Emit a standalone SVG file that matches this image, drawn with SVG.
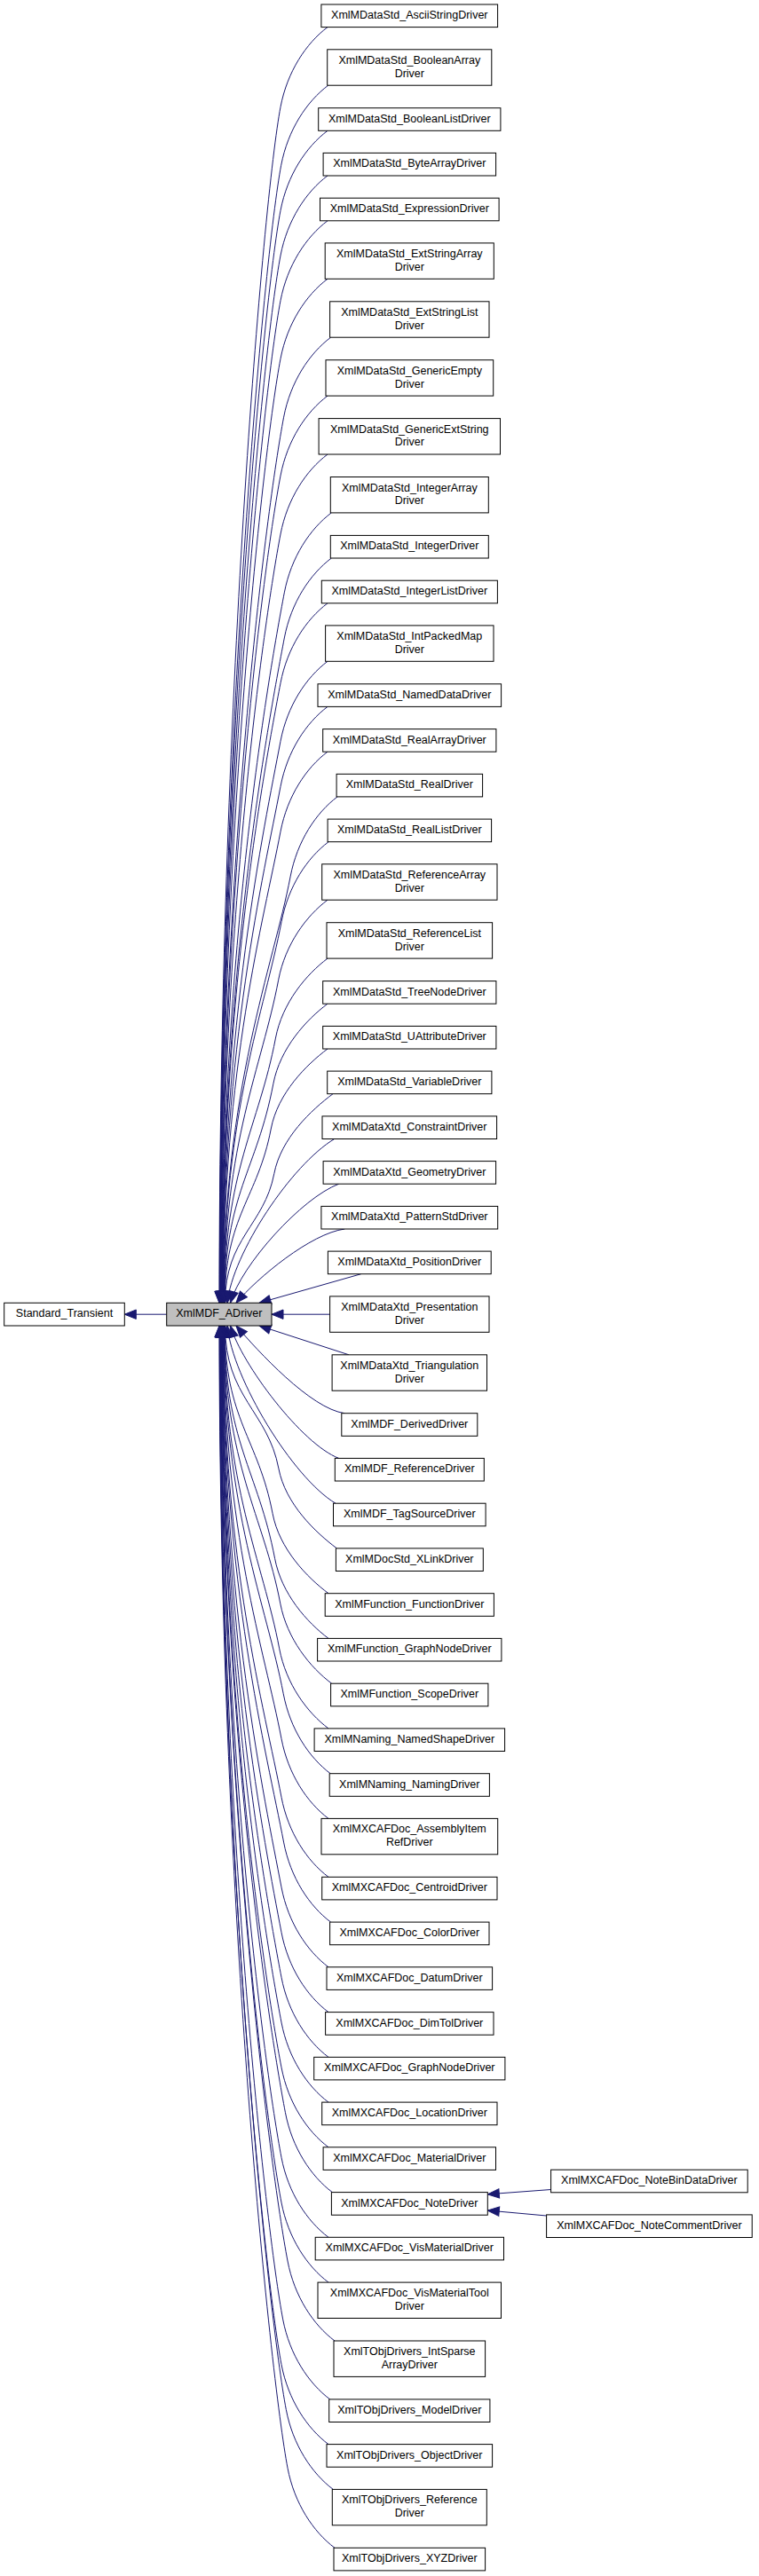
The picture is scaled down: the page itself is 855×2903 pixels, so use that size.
<svg xmlns="http://www.w3.org/2000/svg" width="855" height="2903" viewBox="0 0 855 2903">
<style>
.node rect{fill:#fff;stroke:#000;stroke-width:1}
.node.cur rect{fill:#bfbfbf}
.node text{font-family:"Liberation Sans",Arial,sans-serif;font-size:12.5px;fill:#000;text-anchor:middle}
.edges path{fill:none;stroke:#191970;stroke-width:1;marker-end:url(#ah)}
</style>
<defs>
<marker id="ah" markerUnits="userSpaceOnUse" markerWidth="14" markerHeight="12" refX="13" refY="5.2" orient="auto" overflow="visible">
<path d="M0,0 L13,5.2 L0,10.4 z" fill="#191970" stroke="#191970" stroke-width="1"/>
</marker>
</defs>
<rect width="855" height="2903" fill="#fff"/>
<g id="connectors" class="edges">
<path d="M187.7,1481.2 L140.3,1481.2"/>
<path d="M369,30.6 C345,48.6 323.6,80.6 316,120.6 C297,220.6 247,794.4 247,1468.3"/>
<path d="M369.7,96.2 C345.7,114.2 324.3,146.2 316.7,186.2 C297.7,286.2 247.3,827.3 247.3,1468.3"/>
<path d="M369,147.3 C345,165.3 323.6,197.3 316,237.3 C297,337.3 247.6,852.8 247.6,1468.3"/>
<path d="M369,198 C345,216 323.6,248 316,288 C297,388 247.9,878.2 247.9,1468.3"/>
<path d="M369,248.8 C345,266.8 323.6,298.8 316,338.8 C297,438.8 248.2,903.5 248.2,1468.3"/>
<path d="M369,314.3 C345,332.3 323.6,364.3 316,404.3 C297,504.3 248.5,936.3 248.5,1468.3"/>
<path d="M372.6,380.2 C348.6,398.2 327.2,430.2 319.6,470.2 C300.6,570.2 248.8,969.3 248.8,1468.3"/>
<path d="M369,446.1 C345,464.1 323.6,496.1 316,536.1 C297,636.1 249.2,1002.2 249.2,1468.3"/>
<path d="M369,512 C345,530 323.6,562 316,602 C297,702 249.5,1035.2 249.5,1468.3"/>
<path d="M373.3,577.9 C349.3,595.9 327.9,627.9 320.3,667.9 C301.3,767.9 249.8,1068.1 249.8,1468.3"/>
<path d="M373.3,629 C349.3,647 327.9,679 320.3,719 C301.3,819 250.1,1093.7 250.1,1468.3"/>
<path d="M369,679.8 C345,697.8 323.6,729.8 316,769.8 C297,869.8 250.4,1119.1 250.4,1468.3"/>
<path d="M369,745.3 C345,763.3 323.6,795.3 316,835.3 C297,935.3 250.7,1151.8 250.7,1468.3"/>
<path d="M369,796.4 C345,814.4 323.6,846.4 316,886.4 C297,986.4 251,1177.4 251,1468.3"/>
<path d="M369,847.2 C345,865.2 323.6,897.2 316,937.2 C297,1037.2 251.3,1202.8 251.3,1468.3"/>
<path d="M380.1,897.9 C356.1,915.9 334.7,947.9 327.1,987.9 C308.1,1087.9 251.6,1228.1 251.6,1468.3"/>
<path d="M370.1,948.7 C346.1,966.7 324.7,998.7 317.1,1038.7 C298.1,1138.7 252,1253.5 252,1468.3"/>
<path d="M369,1014.2 C345,1032.2 321.3,1064.2 313.7,1104.2 C294.7,1204.2 252.3,1286.3 252.3,1468.3"/>
<path d="M369,1080.1 C345,1098.1 318,1130.1 310.4,1170.1 C291.4,1270.1 252.6,1319.2 252.6,1468.3"/>
<path d="M369,1131.2 C345,1149.2 315.5,1181.2 307.9,1221.2 C289.1,1320 252.9,1344.8 252.9,1468.3"/>
<path d="M369,1182 C345,1200 312.9,1232 305.3,1272 C290.4,1350.5 253.2,1370.2 253.2,1468.3"/>
<path d="M375,1232.7 C351,1250.7 316.4,1282.7 308.8,1322.7 C297.7,1380.9 253.5,1395.5 253.5,1468.3"/>
<path d="M376.7,1283.5 C328.4,1312.5 262,1412 256,1468.3"/>
<path d="M381.7,1334.2 C340,1350 272,1425 259.5,1468.3"/>
<path d="M388.3,1385 C350,1390 290,1440 266,1468.3"/>
<path d="M406.7,1435.7 L292,1468.3"/>
<path d="M371.6,1481.2 L306,1481.2"/>
<path d="M393,1526.8 L292,1494"/>
<path d="M388.3,1592.7 C350,1587.7 290,1522 266,1494"/>
<path d="M381.7,1643.4 C340,1627.6 272,1537 259.5,1494"/>
<path d="M378,1694.2 C329.7,1665.2 262,1554 256,1494"/>
<path d="M379.4,1744.9 C355.4,1726.9 321.5,1694.9 313.9,1654.9 C301.7,1590.5 253.5,1574.5 253.5,1494"/>
<path d="M370,1795.7 C346,1777.7 314.7,1745.7 307.1,1705.7 C291,1621 253.2,1599.9 253.2,1494"/>
<path d="M370,1846.4 C346,1828.4 317.2,1796.4 309.6,1756.4 C290.6,1656.4 252.9,1625.2 252.9,1494"/>
<path d="M373.6,1897.2 C349.6,1879.2 323.4,1847.2 315.8,1807.2 C296.8,1707.2 252.6,1650.6 252.6,1494"/>
<path d="M370,1947.9 C346,1929.9 322.3,1897.9 314.7,1857.9 C295.7,1757.9 252.3,1676 252.3,1494"/>
<path d="M372.2,1998.7 C348.2,1980.7 326.8,1948.7 319.2,1908.7 C300.2,1808.7 252,1701.4 252,1494"/>
<path d="M370,2049.4 C346,2031.4 324.6,1999.4 317,1959.4 C298,1859.4 251.6,1726.7 251.6,1494"/>
<path d="M370,2115.3 C346,2097.3 324.6,2065.3 317,2025.3 C298,1925.3 251.3,1759.7 251.3,1494"/>
<path d="M372.6,2166.1 C348.6,2148.1 327.2,2116.1 319.6,2076.1 C300.6,1976.1 251,1785.1 251,1494"/>
<path d="M370,2216.8 C346,2198.8 324.6,2166.8 317,2126.8 C298,2026.8 250.7,1810.4 250.7,1494"/>
<path d="M370,2267.6 C346,2249.6 324.6,2217.6 317,2177.6 C298,2077.6 250.4,1835.8 250.4,1494"/>
<path d="M370,2318.3 C346,2300.3 324.6,2268.3 317,2228.3 C298,2128.3 250.1,1861.2 250.1,1494"/>
<path d="M370,2369.1 C346,2351.1 324.6,2319.1 317,2279.1 C298,2179.1 249.8,1886.6 249.8,1494"/>
<path d="M370,2419.8 C346,2401.8 324.6,2369.8 317,2329.8 C298,2229.8 249.5,1911.9 249.5,1494"/>
<path d="M374.4,2470.6 C350.4,2452.6 329,2420.6 321.4,2380.6 C302.4,2280.6 249.2,1937.3 249.2,1494"/>
<path d="M370,2521.3 C346,2503.3 324.6,2471.3 317,2431.3 C298,2331.3 248.8,1962.7 248.8,1494"/>
<path d="M370,2572.1 C346,2554.1 324.6,2522.1 317,2482.1 C298,2382.1 248.5,1988.1 248.5,1494"/>
<path d="M377,2638 C353,2620 331.6,2588 324,2548 C305,2448 248.2,2021 248.2,1494"/>
<path d="M371.7,2703.9 C347.7,2685.9 326.3,2653.9 318.7,2613.9 C299.7,2513.9 247.9,2054 247.9,1494"/>
<path d="M370,2754.6 C346,2736.6 324.6,2704.6 317,2664.6 C298,2564.6 247.6,2079.3 247.6,1494"/>
<path d="M375.3,2805.4 C351.3,2787.4 329.9,2755.4 322.3,2715.4 C303.3,2615.4 247.3,2104.7 247.3,1494"/>
<path d="M377,2871.3 C353,2853.3 331.6,2821.3 324,2781.3 C305,2681.3 247,2137.7 247,1494"/>
<path d="M620.6,2467.5 L549.3,2472.8"/>
<path d="M615.6,2497 L549.3,2491"/>
</g>
<g id="Standard_Transient" class="node"><rect x="4.7" y="1468.3" width="135.6" height="25.7"/><text x="72.5" y="1484.3">Standard_Transient</text></g>
<g id="XmlMDF_ADriver" class="node cur"><rect x="187.7" y="1468.3" width="118.3" height="25.7"/><text x="246.85" y="1484.3">XmlMDF_ADriver</text></g>
<g id="n1" class="node"><rect x="361.9" y="5" width="198.7" height="25.6"/><text x="461.3" y="21">XmlMDataStd_AsciiStringDriver</text></g>
<g id="n2" class="node"><rect x="368.7" y="55.8" width="185.1" height="40.4"/><text x="461.3" y="71.8">XmlMDataStd_BooleanArray</text><text x="461.3" y="86.6">Driver</text></g>
<g id="n3" class="node"><rect x="358.7" y="121.7" width="205.2" height="25.6"/><text x="461.3" y="137.7">XmlMDataStd_BooleanListDriver</text></g>
<g id="n4" class="node"><rect x="364.1" y="172.4" width="194.5" height="25.6"/><text x="461.3" y="188.4">XmlMDataStd_ByteArrayDriver</text></g>
<g id="n5" class="node"><rect x="360.5" y="223.2" width="201.6" height="25.6"/><text x="461.3" y="239.2">XmlMDataStd_ExpressionDriver</text></g>
<g id="n6" class="node"><rect x="366.2" y="273.9" width="190.1" height="40.4"/><text x="461.3" y="289.9">XmlMDataStd_ExtStringArray</text><text x="461.3" y="304.7">Driver</text></g>
<g id="n7" class="node"><rect x="371.6" y="339.8" width="179.4" height="40.4"/><text x="461.3" y="355.8">XmlMDataStd_ExtStringList</text><text x="461.3" y="370.6">Driver</text></g>
<g id="n8" class="node"><rect x="367" y="405.7" width="188.7" height="40.4"/><text x="461.3" y="421.7">XmlMDataStd_GenericEmpty</text><text x="461.3" y="436.5">Driver</text></g>
<g id="n9" class="node"><rect x="359.1" y="471.6" width="204.4" height="40.4"/><text x="461.3" y="487.6">XmlMDataStd_GenericExtString</text><text x="461.3" y="502.4">Driver</text></g>
<g id="n10" class="node"><rect x="372.3" y="537.5" width="178" height="40.4"/><text x="461.3" y="553.5">XmlMDataStd_IntegerArray</text><text x="461.3" y="568.3">Driver</text></g>
<g id="n11" class="node"><rect x="372.3" y="603.4" width="178" height="25.6"/><text x="461.3" y="619.4">XmlMDataStd_IntegerDriver</text></g>
<g id="n12" class="node"><rect x="362.3" y="654.2" width="198.1" height="25.6"/><text x="461.3" y="670.2">XmlMDataStd_IntegerListDriver</text></g>
<g id="n13" class="node"><rect x="366.6" y="704.9" width="189.4" height="40.4"/><text x="461.3" y="720.9">XmlMDataStd_IntPackedMap</text><text x="461.3" y="735.7">Driver</text></g>
<g id="n14" class="node"><rect x="358" y="770.8" width="206.6" height="25.6"/><text x="461.3" y="786.8">XmlMDataStd_NamedDataDriver</text></g>
<g id="n15" class="node"><rect x="363.7" y="821.6" width="195.2" height="25.6"/><text x="461.3" y="837.6">XmlMDataStd_RealArrayDriver</text></g>
<g id="n16" class="node"><rect x="379.1" y="872.3" width="164.5" height="25.6"/><text x="461.3" y="888.3">XmlMDataStd_RealDriver</text></g>
<g id="n17" class="node"><rect x="369.1" y="923.1" width="184.5" height="25.6"/><text x="461.3" y="939.1">XmlMDataStd_RealListDriver</text></g>
<g id="n18" class="node"><rect x="362.7" y="973.8" width="197.3" height="40.4"/><text x="461.3" y="989.8">XmlMDataStd_ReferenceArray</text><text x="461.3" y="1004.6">Driver</text></g>
<g id="n19" class="node"><rect x="368" y="1039.7" width="186.6" height="40.4"/><text x="461.3" y="1055.7">XmlMDataStd_ReferenceList</text><text x="461.3" y="1070.5">Driver</text></g>
<g id="n20" class="node"><rect x="363.7" y="1105.6" width="195.2" height="25.6"/><text x="461.3" y="1121.6">XmlMDataStd_TreeNodeDriver</text></g>
<g id="n21" class="node"><rect x="363.7" y="1156.4" width="195.2" height="25.6"/><text x="461.3" y="1172.4">XmlMDataStd_UAttributeDriver</text></g>
<g id="n22" class="node"><rect x="368.7" y="1207.1" width="185.2" height="25.6"/><text x="461.3" y="1223.1">XmlMDataStd_VariableDriver</text></g>
<g id="n23" class="node"><rect x="363" y="1257.9" width="196.6" height="25.6"/><text x="461.3" y="1273.9">XmlMDataXtd_ConstraintDriver</text></g>
<g id="n24" class="node"><rect x="364.1" y="1308.6" width="194.5" height="25.6"/><text x="461.3" y="1324.6">XmlMDataXtd_GeometryDriver</text></g>
<g id="n25" class="node"><rect x="361.9" y="1359.4" width="198.8" height="25.6"/><text x="461.3" y="1375.4">XmlMDataXtd_PatternStdDriver</text></g>
<g id="n26" class="node"><rect x="369.4" y="1410.1" width="183.8" height="25.6"/><text x="461.3" y="1426.1">XmlMDataXtd_PositionDriver</text></g>
<g id="n27" class="node"><rect x="371.6" y="1460.9" width="179.4" height="40.4"/><text x="461.3" y="1476.9">XmlMDataXtd_Presentation</text><text x="461.3" y="1491.7">Driver</text></g>
<g id="n28" class="node"><rect x="374.1" y="1526.8" width="174.4" height="40.4"/><text x="461.3" y="1542.8">XmlMDataXtd_Triangulation</text><text x="461.3" y="1557.6">Driver</text></g>
<g id="n29" class="node"><rect x="384.8" y="1592.7" width="153" height="25.6"/><text x="461.3" y="1608.7">XmlMDF_DerivedDriver</text></g>
<g id="n30" class="node"><rect x="377.3" y="1643.4" width="168" height="25.6"/><text x="461.3" y="1659.4">XmlMDF_ReferenceDriver</text></g>
<g id="n31" class="node"><rect x="375.5" y="1694.2" width="171.6" height="25.6"/><text x="461.3" y="1710.2">XmlMDF_TagSourceDriver</text></g>
<g id="n32" class="node"><rect x="378.4" y="1744.9" width="165.9" height="25.6"/><text x="461.3" y="1760.9">XmlMDocStd_XLinkDriver</text></g>
<g id="n33" class="node"><rect x="366.2" y="1795.7" width="190.2" height="25.6"/><text x="461.3" y="1811.7">XmlMFunction_FunctionDriver</text></g>
<g id="n34" class="node"><rect x="357.6" y="1846.4" width="207.3" height="25.6"/><text x="461.3" y="1862.4">XmlMFunction_GraphNodeDriver</text></g>
<g id="n35" class="node"><rect x="372.6" y="1897.2" width="177.3" height="25.6"/><text x="461.3" y="1913.2">XmlMFunction_ScopeDriver</text></g>
<g id="n36" class="node"><rect x="354.1" y="1947.9" width="214.5" height="25.6"/><text x="461.3" y="1963.9">XmlMNaming_NamedShapeDriver</text></g>
<g id="n37" class="node"><rect x="371.2" y="1998.7" width="180.2" height="25.6"/><text x="461.3" y="2014.7">XmlMNaming_NamingDriver</text></g>
<g id="n38" class="node"><rect x="362" y="2049.4" width="198.7" height="40.4"/><text x="461.3" y="2065.4">XmlMXCAFDoc_AssemblyItem</text><text x="461.3" y="2080.2">RefDriver</text></g>
<g id="n39" class="node"><rect x="362.7" y="2115.3" width="197.3" height="25.6"/><text x="461.3" y="2131.3">XmlMXCAFDoc_CentroidDriver</text></g>
<g id="n40" class="node"><rect x="371.6" y="2166.1" width="179.4" height="25.6"/><text x="461.3" y="2182.1">XmlMXCAFDoc_ColorDriver</text></g>
<g id="n41" class="node"><rect x="368" y="2216.8" width="186.6" height="25.6"/><text x="461.3" y="2232.8">XmlMXCAFDoc_DatumDriver</text></g>
<g id="n42" class="node"><rect x="366.6" y="2267.6" width="189.4" height="25.6"/><text x="461.3" y="2283.6">XmlMXCAFDoc_DimTolDriver</text></g>
<g id="n43" class="node"><rect x="353.7" y="2318.3" width="215.2" height="25.6"/><text x="461.3" y="2334.3">XmlMXCAFDoc_GraphNodeDriver</text></g>
<g id="n44" class="node"><rect x="362.7" y="2369.1" width="197.3" height="25.6"/><text x="461.3" y="2385.1">XmlMXCAFDoc_LocationDriver</text></g>
<g id="n45" class="node"><rect x="364.1" y="2419.8" width="194.4" height="25.6"/><text x="461.3" y="2435.8">XmlMXCAFDoc_MaterialDriver</text></g>
<g id="n46" class="node"><rect x="373.4" y="2470.6" width="175.9" height="25.6"/><text x="461.3" y="2486.6">XmlMXCAFDoc_NoteDriver</text></g>
<g id="n47" class="node"><rect x="355.2" y="2521.3" width="212.3" height="25.6"/><text x="461.3" y="2537.3">XmlMXCAFDoc_VisMaterialDriver</text></g>
<g id="n48" class="node"><rect x="358" y="2572.1" width="206.5" height="40.4"/><text x="461.3" y="2588.1">XmlMXCAFDoc_VisMaterialTool</text><text x="461.3" y="2602.9">Driver</text></g>
<g id="n49" class="node"><rect x="376" y="2638" width="170.6" height="40.4"/><text x="461.3" y="2654">XmlTObjDrivers_IntSparse</text><text x="461.3" y="2668.8">ArrayDriver</text></g>
<g id="n50" class="node"><rect x="370.7" y="2703.9" width="181.2" height="25.6"/><text x="461.3" y="2719.9">XmlTObjDrivers_ModelDriver</text></g>
<g id="n51" class="node"><rect x="368" y="2754.6" width="186.6" height="25.6"/><text x="461.3" y="2770.6">XmlTObjDrivers_ObjectDriver</text></g>
<g id="n52" class="node"><rect x="374.3" y="2805.4" width="174" height="40.4"/><text x="461.3" y="2821.4">XmlTObjDrivers_Reference</text><text x="461.3" y="2836.2">Driver</text></g>
<g id="n53" class="node"><rect x="376" y="2871.3" width="170.6" height="25.6"/><text x="461.3" y="2887.3">XmlTObjDrivers_XYZDriver</text></g>
<g id="n54" class="node"><rect x="620.6" y="2445.2" width="221.6" height="25.6"/><text x="731.4" y="2461.2">XmlMXCAFDoc_NoteBinDataDriver</text></g>
<g id="n55" class="node"><rect x="615.6" y="2495.9" width="231.6" height="25.6"/><text x="731.4" y="2511.9">XmlMXCAFDoc_NoteCommentDriver</text></g>
</svg>
